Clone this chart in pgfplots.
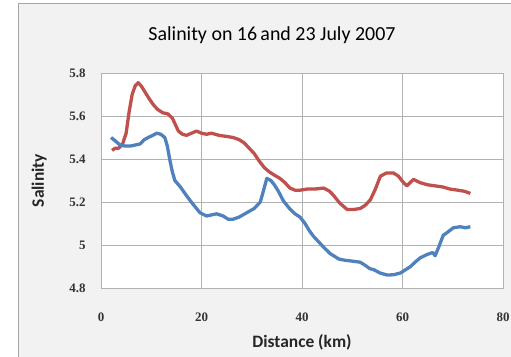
\documentclass[border=0pt]{standalone}
\usepackage{pgfplots}
\pgfplotsset{compat=1.18}
\usepackage{fontspec}
\setmainfont{Carlito}
\newfontfamily\tickfont{Liberation Serif}
\definecolor{exred}{HTML}{C0504D}
\definecolor{exblue}{HTML}{4F81BD}
\definecolor{chartbg}{HTML}{F2F2F2}
\begin{document}
\begin{tikzpicture}[x=1bp,y=1bp]
\useasboundingbox (-101,-68) rectangle (410,288);
\fill[chartbg] (-83,-80) rectangle (420,285);
\draw[gray!70, line width=0.8pt] (-83,-80) -- (-83,285) -- (420,285);
\begin{axis}[
  at={(0,0)}, anchor=south west,
  scale only axis, width=402bp, height=215bp,
  xmin=0, xmax=80, ymin=4.8, ymax=5.8,
  xtick={0,20,40,60,80}, ytick={4.8,5,5.2,5.4,5.6,5.8},
  grid=major, major grid style={gray!60, line width=0.6pt},
  axis line style={gray!60, line width=0.6pt},
  major tick length=0pt,
  axis background/.style={fill=white},
  tick label style={font=\fontsize{13}{14}\selectfont\tickfont\bfseries, text=black!80},
  /pgf/number format/assume math mode=true,
  yticklabel style={anchor=east, xshift=-12bp},
  xticklabel style={anchor=center, yshift=-29bp},
  xlabel={\fontsize{17.5}{20}\selectfont\bfseries Distance (km)},
  ylabel={\fontsize{17.5}{20}\selectfont\bfseries Salinity},
  xlabel style={at={(axis description cs:0.5,-0.2512)}, anchor=center, text=black!85},
  ylabel style={at={(axis description cs:-0.1542,0.5)}, anchor=center, text=black!85},
]
\addplot[exred, line width=3.3pt, line join=round] coordinates {
(2.2,5.44) (2.8,5.45) (3.5,5.45) (4.3,5.47) (5.0,5.52) (5.6,5.62) (6.2,5.70) (6.8,5.74) (7.4,5.755) (8.0,5.74) (8.8,5.71) (9.6,5.68) (10.5,5.65) (11.3,5.63) (12.3,5.615) (13.3,5.61) (14.2,5.59) (14.8,5.56) (15.4,5.53) (16.2,5.515) (17,5.51) (18,5.52) (19,5.53) (20,5.52) (21,5.515) (22,5.52) (23.5,5.51) (25,5.505) (26.3,5.50) (27.5,5.49) (28.5,5.475) (29.5,5.45) (30.5,5.425) (31.5,5.39) (32.5,5.36) (33.5,5.34) (34.5,5.325) (35.6,5.31) (36.6,5.29) (37.6,5.265) (38.6,5.255) (39.6,5.255) (41,5.26) (42.5,5.26) (44.3,5.265) (45.5,5.25) (46.3,5.23) (47.5,5.195) (49,5.165) (50.3,5.165) (51.6,5.17) (52.6,5.185) (53.6,5.21) (54.6,5.26) (55.6,5.32) (56.8,5.335) (58.2,5.335) (59.2,5.32) (60.2,5.29) (60.9,5.275) (61.5,5.29) (62.2,5.305) (63.5,5.29) (65,5.28) (66.5,5.275) (68,5.27) (69.5,5.26) (71,5.255) (72.3,5.25) (73.5,5.24)
};
\addplot[exblue, line width=3.3pt, line join=round] coordinates {
(2.0,5.50) (2.8,5.485) (3.8,5.465) (4.8,5.46) (5.8,5.46) (6.8,5.465) (7.8,5.47) (8.6,5.49) (9.4,5.50) (10.3,5.51) (11.1,5.52) (11.9,5.515) (12.7,5.50) (13.2,5.46) (13.7,5.395) (14.2,5.34) (14.7,5.30) (15.8,5.27) (17,5.23) (18.3,5.19) (19.7,5.15) (21,5.135) (22,5.14) (23,5.145) (24.3,5.135) (25.3,5.12) (26.3,5.12) (27.5,5.13) (29,5.15) (30.5,5.17) (31.7,5.20) (32.3,5.25) (33,5.31) (33.8,5.30) (34.5,5.28) (35.3,5.25) (36.3,5.205) (37.5,5.17) (38.6,5.145) (39.6,5.13) (40.6,5.10) (41.5,5.065) (42.3,5.04) (43.5,5.01) (44.5,4.985) (45.6,4.96) (46.3,4.95) (47.3,4.935) (48.3,4.93) (50,4.925) (51.6,4.92) (52.6,4.905) (53.5,4.89) (54.3,4.885) (55.5,4.87) (57,4.86) (58.3,4.862) (59.6,4.87) (60.6,4.885) (61.6,4.90) (62.5,4.92) (63.5,4.94) (64.8,4.955) (66.0,4.965) (66.5,4.95) (67.2,4.99) (68.1,5.045) (69,5.06) (70.1,5.08) (71.5,5.085) (72.5,5.08) (73.5,5.085)
};
\end{axis}
\node[font=\fontsize{20}{22}\selectfont] at (171,253) {Salinity on 16\,and 23 July 2007};
\end{tikzpicture}
\end{document}
